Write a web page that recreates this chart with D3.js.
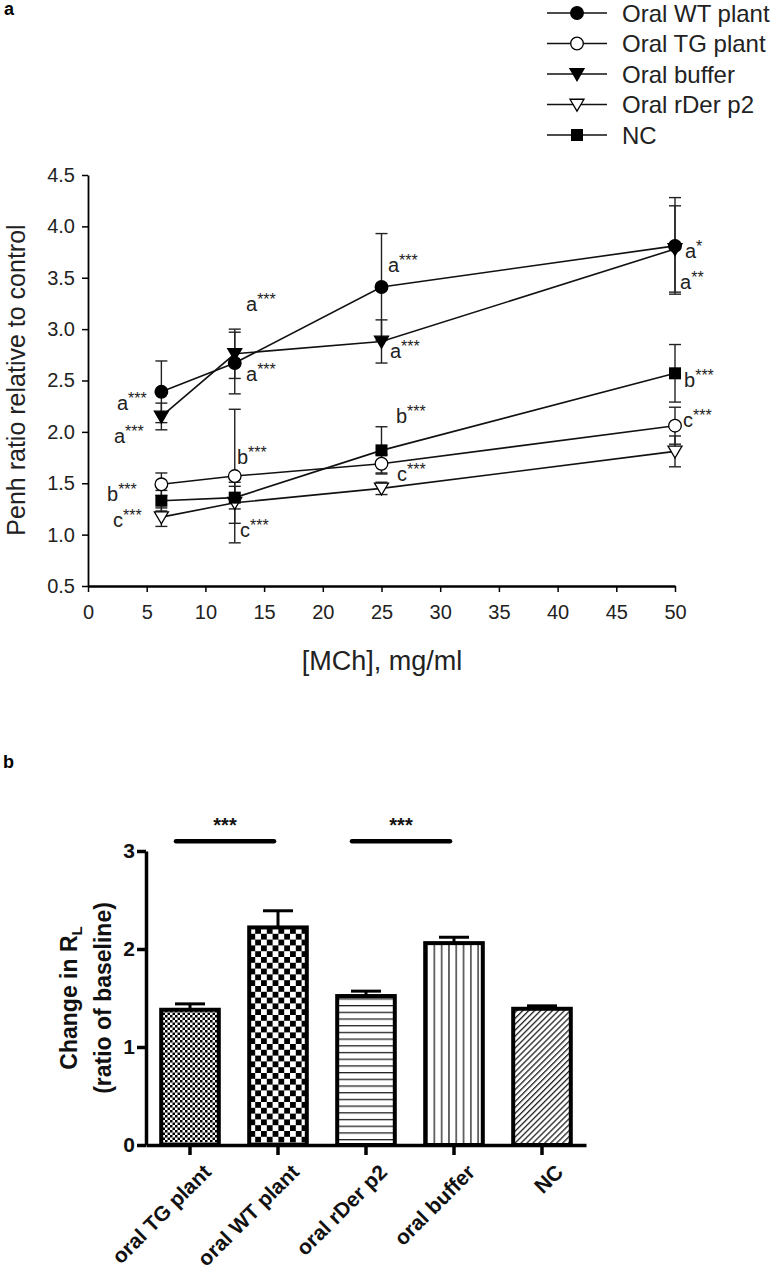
<!DOCTYPE html>
<html><head><meta charset="utf-8">
<script src="https://cdn.jsdelivr.net/npm/d3@7"></script>
<style>
body{margin:0;background:#fff;}
svg{display:block;font-family:"Liberation Sans",Arial,sans-serif;}
</style></head>
<body>
<svg id="c" width="784" height="1273"></svg>
<script>
// ---------- Panel a data ----------
const doses = [6.25, 12.5, 25, 50];
const xTicksA = [0,5,10,15,20,25,30,35,40,45,50];
const yTicksA = [0.5,1.0,1.5,2.0,2.5,3.0,3.5,4.0,4.5];
const seriesNames = ["Oral WT plant","Oral TG plant","Oral buffer","Oral rDer p2","NC"];
const seriesShapes = ["circleFilled","circleOpen","triDownFilled","triDownOpen","squareFilled"];
const wtMean = [2.39, 2.67, 3.41, 3.81];
const wtErr  = [0.30, 0.30, 0.52, 0.47];
const tgMean = [1.49, 1.57, 1.69, 2.06];
const tgErr  = [0.11, 0.65, 0.09, 0.18];
const bufMean = [2.15, 2.76, 2.88, 3.78];
const bufErr  = [0.13, 0.24, 0.21, 0.42];
const rderMean = [1.17, 1.31, 1.45, 1.81];
const rderErr  = [0.09, 0.20, 0.06, 0.15];
const ncMean = [1.33, 1.36, 1.82, 2.57];
const ncErr  = [0.10, 0.11, 0.23, 0.28];
const meansA = [wtMean, tgMean, bufMean, rderMean, ncMean];
const errsA = [wtErr, tgErr, bufErr, rderErr, ncErr];
// annotation letters and stars, anchored at (dose-axis value, ratio value)
const annLetters = ["a","a","b","c","a","a","b","c","a","a","b","c","a","a","b","c"];
const annStars   = ["***","***","***","***","***","***","***","***","***","***","***","***","*","**","***","***"];
const annX = [2.47, 2.21, 1.62, 2.13, 13.46, 13.46, 12.69, 12.95, 25.55, 25.72, 26.23, 26.32, 50.85, 50.43, 50.77, 50.68];
const annY = [2.27, 1.95, 1.39, 1.13, 3.23, 2.55, 1.75, 1.04, 3.61, 2.78, 2.14, 1.58, 3.75, 3.45, 2.50, 2.11];

// ---------- Panel b data ----------
const barCats = ["oral TG plant","oral WT plant","oral rDer p2","oral buffer","NC"];
const barVals = [1.38, 2.22, 1.52, 2.06, 1.39];
const barErrs = [0.06, 0.17, 0.05, 0.06, 0.03];
const barPatterns = ["pFineCheck","pCoarseCheck","pHoriz","pVert","pDiag"];
const yTicksB = [0,1,2,3];
const sigPairs = [[0,1],[2,3]];
const sigLevel = 3.1;
const sigText = "***";

const svg = d3.select("#c");
const defs = svg.append("defs");

// ---------- Panel a ----------
const xA = d3.scaleLinear().domain([0,50]).range([88,675]);
const yA = d3.scaleLinear().domain([0.5,4.5]).range([586,175]);

svg.append("text").attr("x",4).attr("y",15).attr("font-weight","bold").attr("font-size",18).text("a");

const gA = svg.append("g");
const yAxA = gA.append("g").attr("transform","translate(88,0)")
  .call(d3.axisLeft(yA).tickValues(yTicksA).tickFormat(d3.format(".1f")).tickSize(6).tickSizeOuter(0));
yAxA.select(".domain").attr("stroke-width",1.8);
yAxA.selectAll(".tick line").attr("stroke-width",1.5);
yAxA.selectAll("text").attr("font-size",20).attr("font-family","Liberation Sans, Arial").attr("fill","#222").attr("dx",-4);
const xAxA = gA.append("g").attr("transform","translate(0,586)")
  .call(d3.axisBottom(xA).tickValues(xTicksA).tickSize(6).tickSizeOuter(0));
xAxA.select(".domain").attr("stroke-width",2.6);
xAxA.selectAll(".tick line").attr("stroke-width",1.5);
xAxA.selectAll("text").attr("font-size",20).attr("font-family","Liberation Sans, Arial").attr("fill","#222").attr("dy","1.2em");

svg.append("text").attr("transform","translate(25,380) rotate(-90)").attr("text-anchor","middle")
  .attr("font-size",25).attr("fill","#222").text("Penh ratio relative to control");
svg.append("text").attr("x",382).attr("y",670).attr("text-anchor","middle")
  .attr("font-size",27).attr("fill","#222").text("[MCh], mg/ml");

function drawMarker(g, shape, cx, cy){
  const fill = shape.endsWith("Open") ? "#fff" : "#000";
  if (shape.startsWith("circle")) {
    g.append("circle").attr("cx",cx).attr("cy",cy).attr("r",6.3).attr("fill",fill).attr("stroke","#000").attr("stroke-width",1.3);
  } else if (shape.startsWith("triDown")) {
    const s = 7;
    g.append("path").attr("d",`M${cx-s},${cy-s*0.75} L${cx+s},${cy-s*0.75} L${cx},${cy+s*0.95} Z`)
      .attr("fill",fill).attr("stroke","#000").attr("stroke-width",1.3);
  } else {
    g.append("rect").attr("x",cx-6).attr("y",cy-6).attr("width",12).attr("height",12).attr("fill",fill);
  }
}

const line = d3.line().x(d=>xA(d[0])).y(d=>yA(d[1]));
meansA.forEach((m,si)=>{
  const g = gA.append("g");
  m.forEach((v,i)=>{
    const x = xA(doses[i]), e = errsA[si][i];
    g.append("line").attr("x1",x).attr("x2",x).attr("y1",yA(v-e)).attr("y2",yA(v+e)).attr("stroke","#222").attr("stroke-width",1.4);
    [v-e, v+e].forEach(t=>{
      g.append("line").attr("x1",x-6).attr("x2",x+6).attr("y1",yA(t)).attr("y2",yA(t)).attr("stroke","#222").attr("stroke-width",1.4);
    });
  });
});
meansA.forEach((m,si)=>{
  gA.append("path").datum(m.map((v,i)=>[doses[i],v])).attr("d",line).attr("fill","none").attr("stroke","#111").attr("stroke-width",1.6);
});
meansA.forEach((m,si)=>{
  const g = gA.append("g");
  m.forEach((v,i)=> drawMarker(g, seriesShapes[si], xA(doses[i]), yA(v)));
});
annLetters.forEach((l,i)=>{
  const t = gA.append("text").attr("x",xA(annX[i])).attr("y",yA(annY[i])+6).attr("font-size",20).attr("fill","#222");
  t.append("tspan").text(l);
  t.append("tspan").attr("font-size",16).attr("dy",-6).text(annStars[i]);
});

// legend
const lg = svg.append("g");
seriesNames.forEach((n,i)=>{
  const cy = 13 + i*30.5;
  lg.append("line").attr("x1",547).attr("x2",607).attr("y1",cy).attr("y2",cy).attr("stroke","#111").attr("stroke-width",1.6);
  drawMarker(lg, seriesShapes[i], 577, cy);
  lg.append("text").attr("x",622).attr("y",cy+8.5).attr("font-size",24).attr("fill","#222").text(n);
});

// ---------- Panel b ----------
svg.append("text").attr("x",3).attr("y",768).attr("font-weight","bold").attr("font-size",18).text("b");

function checkPattern(id, c){
  const p = defs.append("pattern").attr("id",id).attr("patternUnits","userSpaceOnUse").attr("width",2*c).attr("height",2*c);
  p.append("rect").attr("width",2*c).attr("height",2*c).attr("fill","#fff");
  p.append("rect").attr("width",c).attr("height",c).attr("fill","#000");
  p.append("rect").attr("x",c).attr("y",c).attr("width",c).attr("height",c).attr("fill","#000");
}
checkPattern("pFineCheck", 2.5);
checkPattern("pCoarseCheck", 5.8);
(function(){
  const p = defs.append("pattern").attr("id","pHoriz").attr("patternUnits","userSpaceOnUse").attr("width",8).attr("height",6.7);
  p.append("rect").attr("width",8).attr("height",6.7).attr("fill","#fff");
  p.append("rect").attr("y",0).attr("width",8).attr("height",1.3).attr("fill","#222");
  const q = defs.append("pattern").attr("id","pVert").attr("patternUnits","userSpaceOnUse").attr("width",7.3).attr("height",8);
  q.append("rect").attr("width",7.3).attr("height",8).attr("fill","#fff");
  q.append("rect").attr("x",3).attr("width",1.3).attr("height",8).attr("fill","#222");
  const r = defs.append("pattern").attr("id","pDiag").attr("patternUnits","userSpaceOnUse").attr("width",4.2).attr("height",10)
    .attr("patternTransform","rotate(45)");
  r.append("rect").attr("width",4.2).attr("height",10).attr("fill","#fff");
  r.append("rect").attr("x",0).attr("width",1.3).attr("height",10).attr("fill","#222");
})();

const xB = d3.scaleBand().domain(barCats).range([146,586]).paddingInner(0.3).paddingOuter(0.15);
const yB = d3.scaleLinear().domain([0,3]).range([1145,851]);
const gB = svg.append("g");

barCats.forEach((c,i)=>{
  const x0 = xB(c), w = xB.bandwidth(), cx = x0 + w/2;
  const top = yB(barVals[i]), et = yB(barVals[i]+barErrs[i]);
  gB.append("line").attr("x1",cx).attr("x2",cx).attr("y1",top).attr("y2",et).attr("stroke","#000").attr("stroke-width",3);
  gB.append("line").attr("x1",cx-15).attr("x2",cx+15).attr("y1",et).attr("y2",et).attr("stroke","#000").attr("stroke-width",3);
  gB.append("rect").attr("x",x0+2).attr("y",top).attr("width",w-4).attr("height",yB(0)-top)
    .attr("fill",`url(#${barPatterns[i]})`).attr("stroke","#000").attr("stroke-width",4);
});

const yAxB = gB.append("g").attr("transform","translate(146,0)")
  .call(d3.axisLeft(yB).tickValues(yTicksB).tickFormat(d3.format("d")).tickSize(9).tickSizeOuter(0));
yAxB.select(".domain").attr("stroke-width",3.5);
yAxB.selectAll(".tick line").attr("stroke-width",3.5);
yAxB.selectAll("text").attr("font-size",21).attr("font-weight","bold").attr("font-family","Liberation Sans, Arial").attr("fill","#111").attr("dx",1);
const xAxB = gB.append("g").attr("transform","translate(0,1145)")
  .call(d3.axisBottom(xB).tickSize(10).tickSizeOuter(0));
xAxB.select(".domain").attr("stroke-width",3.5);
xAxB.selectAll(".tick line").attr("stroke-width",3.5);
xAxB.selectAll("text").attr("font-size",21).attr("font-weight","bold").attr("font-family","Liberation Sans, Arial").attr("fill","#111")
  .attr("text-anchor","end").attr("transform","translate(12,18) rotate(-45)").attr("dy","0.7em").attr("y",0);

const yt = svg.append("text").attr("transform","translate(77,998) rotate(-90)").attr("text-anchor","middle")
  .attr("font-size",23).attr("font-weight","bold").attr("fill","#111");
yt.append("tspan").text("Change in R");
yt.append("tspan").attr("font-size",15).attr("dy",5).text("L");
svg.append("text").attr("transform","translate(111,998) rotate(-90)").attr("text-anchor","middle")
  .attr("font-size",23).attr("font-weight","bold").attr("fill","#111").text("(ratio of baseline)");

sigPairs.forEach(([a,b])=>{
  const x1 = xB(barCats[a]) + xB.bandwidth()/2 - 14;
  const x2 = xB(barCats[b]) + xB.bandwidth()/2 - 4;
  gB.append("line").attr("x1",x1).attr("x2",x2).attr("y1",yB(sigLevel)).attr("y2",yB(sigLevel))
    .attr("stroke","#000").attr("stroke-width",4.5).attr("stroke-linecap","round");
  gB.append("text").attr("x",(x1+x2)/2).attr("y",yB(sigLevel)-9).attr("text-anchor","middle")
    .attr("font-size",20).attr("font-weight","bold").attr("fill","#111").text(sigText);
});
</script>
</body></html>
